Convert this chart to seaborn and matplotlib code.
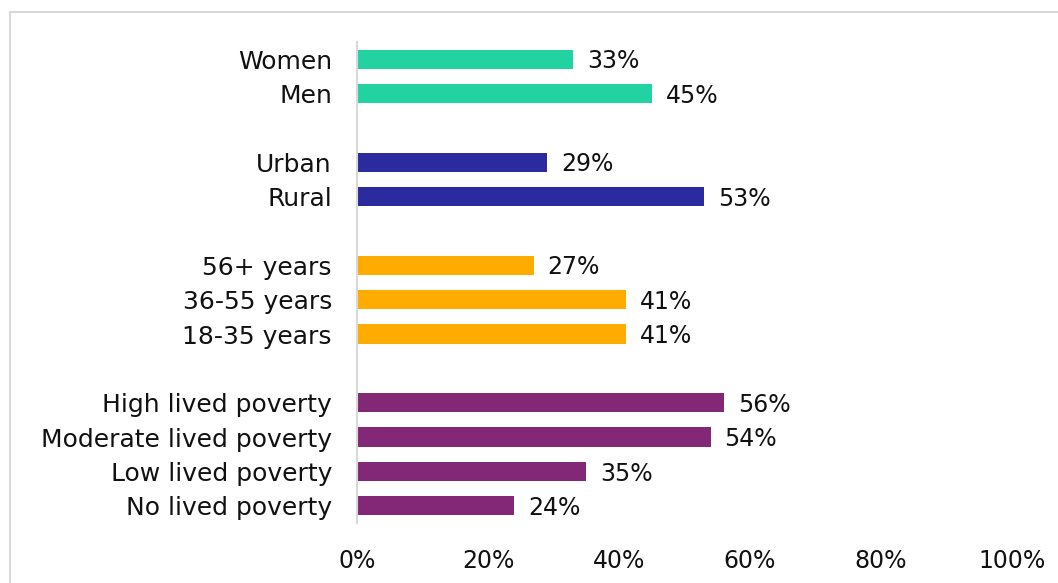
import seaborn as sns
import pandas as pd
import matplotlib.pyplot as plt
from matplotlib.patches import Rectangle

# Data
gender_labels = ['Women', 'Men']
gender_values = [33, 45]
location_labels = ['Urban', 'Rural']
location_values = [29, 53]
age_labels = ['56+ years', '36-55 years', '18-35 years']
age_values = [27, 41, 41]
poverty_labels = ['High lived poverty', 'Moderate lived poverty', 'Low lived poverty', 'No lived poverty']
poverty_values = [56, 54, 35, 24]

group_colors = {'gender': '#23D2A1', 'location': '#2B2A9E', 'age': '#FFAB00', 'poverty': '#832877'}

groups = [('gender', gender_labels, gender_values),
          ('location', location_labels, location_values),
          ('age', age_labels, age_values),
          ('poverty', poverty_labels, poverty_values)]

# build table, leaving one empty slot between groups
rows = []
pos = 0
for name, labels, values in groups:
    for lab, val in zip(labels, values):
        rows.append({'group': name, 'label': lab, 'value': val, 'pos': pos})
        pos += 1
    pos += 1
df = pd.DataFrame(rows)

sns.set_style('white')
plt.rcParams['font.family'] = ['DejaVu Sans']

fig = plt.figure(figsize=(10.58, 5.83), dpi=100)
ax = fig.add_axes([357 / 1058, 1 - 523 / 583, 655 / 1058, 481 / 583])

sns.barplot(data=df, x='value', y='pos', hue='group', palette=group_colors,
            orient='h', native_scale=True, dodge=False, width=0.56,
            saturation=1, linewidth=0, legend=False, ax=ax)

for cont in ax.containers:
    for t in ax.bar_label(cont, fmt='%g%%', padding=10, fontsize=17, color='#111111'):
        t.set_y(-1.5)

ax.set_xlim(0, 100)
ax.set_ylim(df['pos'].max() + 0.5, -0.5)
ax.set_xticks(range(0, 101, 20))
ax.set_xticklabels([f'{t}%' for t in range(0, 101, 20)])
ax.set_yticks(df['pos'])
ax.set_yticklabels(df['label'])
ax.tick_params(axis='y', length=0, labelsize=18, colors='#111111', pad=18)
ax.tick_params(axis='x', length=0, labelsize=17, colors='#111111', pad=19)
ax.set_xlabel('')
ax.set_ylabel('')

for side in ['top', 'right', 'bottom']:
    ax.spines[side].set_visible(False)
ax.spines['left'].set_color('#D9D9D9')
ax.spines['left'].set_linewidth(1.5)

# light frame around the chart area
fig.patches.append(Rectangle((10 / 1058, -0.1), 1.2, 1.1 - 12 / 583,
                             transform=fig.transFigure, fill=False,
                             edgecolor='#D9D9D9', linewidth=1.5))

fig.savefig('out.png', dpi=100)
